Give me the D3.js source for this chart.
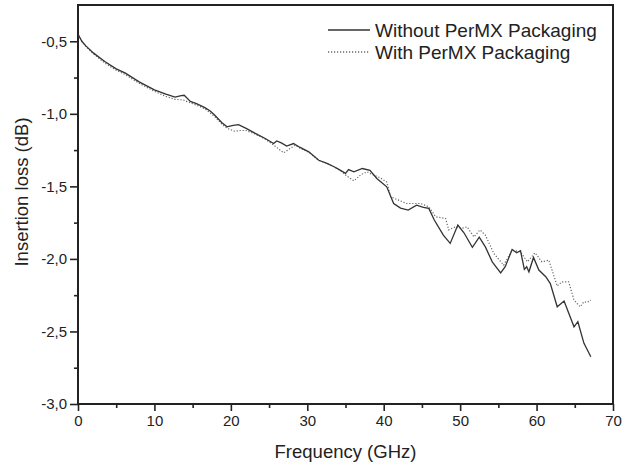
<!DOCTYPE html>
<html>
<head>
<meta charset="utf-8">
<script src="https://cdn.jsdelivr.net/npm/d3@7"></script>
<style>
  body { margin: 0; background: #fff; }
  text { font-family: Arial, "Liberation Sans", sans-serif; fill: #222; }
</style>
</head>
<body>
<div id="chart"></div>
<script>
// frequency (GHz) and insertion loss (dB)
var withoutFreq = [0.1, 0.5, 1, 2, 3.5, 5, 6.2, 8, 10, 11.5, 12.7, 13.5, 13.9, 14.7, 15.5, 16.6, 17.3, 17.9, 18.8, 19.5,
    20.3, 21, 22, 23.2, 24.5, 25.6, 26, 26.6, 27.3, 28.2, 29, 30.2, 31.5, 32.5, 33.5, 34.3, 35, 35.4, 36.1, 37.2,
    38.2, 39.1, 40.4, 41.3, 42.2, 43.2, 44.3, 45.2, 45.9, 46.6, 47.8, 48.7, 49.7, 50.5, 51.6, 52.5, 53.3, 54.2, 55.3, 55.9,
    56.8, 57.4, 57.9, 58.4, 58.7, 59, 59.6, 60.3, 61.2, 61.8, 62.7, 63.6, 64.9, 65.4, 66.2, 67.1];
var withoutLoss = [-0.46, -0.50, -0.53, -0.58, -0.64, -0.69, -0.72, -0.78, -0.835, -0.865, -0.885, -0.875, -0.872, -0.915, -0.93, -0.957, -0.98, -1.01, -1.06, -1.09,
    -1.08, -1.075, -1.10, -1.135, -1.17, -1.205, -1.187, -1.20, -1.222, -1.205, -1.23, -1.262, -1.32, -1.34, -1.365, -1.388, -1.41, -1.384, -1.40, -1.377,
    -1.39, -1.446, -1.503, -1.618, -1.65, -1.664, -1.63, -1.645, -1.652, -1.73, -1.836, -1.893, -1.767, -1.82, -1.92, -1.85, -1.917, -2.02, -2.096, -2.054,
    -1.935, -1.958, -1.944, -2.072, -2.054, -2.089, -1.99, -2.077, -2.123, -2.17, -2.33, -2.29, -2.468, -2.433, -2.582, -2.674];

var withFreq = [0.1, 0.5, 1, 2, 3.5, 5, 6.2, 8, 10, 11.5, 12.7, 13.8, 14.7, 15.5, 16.6, 17.9, 18.8, 19.5, 20.5, 21.2,
    22, 23.2, 24.5, 25.6, 26.9, 27.6, 28.4, 29, 30.2, 31.5, 32.5, 33.5, 34.3, 35.2, 36.1, 37, 37.8, 38.6, 39.5, 40.4,
    40.9, 41.7, 43, 44.8, 45.9, 46.8, 48.1, 48.5, 49.4, 50.2, 50.9, 51.8, 52.6, 53.3, 54.4, 55.7, 56.8, 57.9, 58.8, 59.8,
    60.7, 61.6, 62.7, 63.3, 64.2, 64.9, 65.7, 66.2, 66.6, 67.1];
var withLoss = [-0.46, -0.50, -0.535, -0.585, -0.65, -0.70, -0.73, -0.79, -0.845, -0.88, -0.90, -0.905, -0.925, -0.94, -0.965, -1.02, -1.07, -1.10, -1.12, -1.115,
    -1.115, -1.14, -1.175, -1.215, -1.269, -1.245, -1.216, -1.235, -1.265, -1.32, -1.34, -1.365, -1.39, -1.43, -1.462, -1.42, -1.40, -1.42, -1.44, -1.47,
    -1.57, -1.59, -1.618, -1.618, -1.641, -1.71, -1.721, -1.80, -1.779, -1.79, -1.779, -1.848, -1.80, -1.836, -1.962, -2.043, -1.94, -1.951, -2.02, -1.958,
    -2.02, -2.008, -2.187, -2.158, -2.158, -2.284, -2.33, -2.295, -2.30, -2.284];

var seriesNames = ["Without PerMX Packaging", "With PerMX Packaging"];
var xTicks = [0, 10, 20, 30, 40, 50, 60, 70];
var xMinorTicks = [5, 15, 25, 35, 45, 55, 65];
var yTicks = [-3.0, -2.5, -2.0, -1.5, -1.0, -0.5];
var yMinorTicks = [-2.75, -2.25, -1.75, -1.25, -0.75];

// svg size
const width = 622, height = 467;
const margin = {top: 5, right: 9, bottom: 63, left: 78};
const pw = width - margin.left - margin.right;
const ph = height - margin.top - margin.bottom;

var s = d3.select("#chart").append("svg")
    .attr("width", width)
    .attr("height", height);

var g = s.append("g")
    .attr("transform", `translate(${margin.left}, ${margin.top})`);

// scales
var x = d3.scaleLinear().domain([0, 70]).range([0, pw]);
var y = d3.scaleLinear().domain([-3.0, -0.25]).range([ph, 0]);

// decimal comma, plain hyphen for minus
function commaFmt(v){ return v.toFixed(1).replace(".", ","); }

// axes (major + minor ticks)
g.append("g")
    .attr("transform", "translate(0," + ph + ")")
    .call(d3.axisBottom(x).tickValues(xTicks).tickSize(7).tickPadding(4).tickFormat(d3.format("d")));
g.append("g")
    .attr("transform", "translate(0," + ph + ")")
    .call(d3.axisBottom(x).tickValues(xMinorTicks).tickSize(4).tickFormat(""));
g.append("g")
    .call(d3.axisLeft(y).tickValues(yTicks).tickSize(8).tickPadding(3).tickFormat(commaFmt));
g.append("g")
    .call(d3.axisLeft(y).tickValues(yMinorTicks).tickSize(4).tickFormat(""));

g.selectAll(".domain").remove();
g.selectAll(".tick line").attr("stroke", "#222").attr("stroke-width", 1.6);
g.selectAll(".tick text").style("font-size", "15px").attr("fill", "#222");

// frame
g.append("rect")
    .attr("x", 0).attr("y", 0)
    .attr("width", pw).attr("height", ph)
    .attr("fill", "none")
    .attr("stroke", "#222")
    .attr("stroke-width", 2);

// axis titles
s.append("text")
    .attr("x", margin.left + pw / 2)
    .attr("y", 458)
    .attr("text-anchor", "middle")
    .style("font-size", "18.5px")
    .text("Frequency (GHz)");
s.append("text")
    .attr("transform", "translate(28,192) rotate(-90)")
    .attr("text-anchor", "middle")
    .style("font-size", "18.5px")
    .text("Insertion loss (dB)");

// lines
var line = d3.line()
    .x(function(d){ return x(d[0]); })
    .y(function(d){ return y(d[1]); })
    .curve(d3.curveLinear);

var withData = withFreq.map(function(f, i){ return [f, withLoss[i]]; });
var withoutData = withoutFreq.map(function(f, i){ return [f, withoutLoss[i]]; });

g.append("path")
    .attr("d", line(withData))
    .attr("fill", "none")
    .attr("stroke", "#666")
    .attr("stroke-width", 1.2)
    .attr("stroke-dasharray", "1.2,1.8");
g.append("path")
    .attr("d", line(withoutData))
    .attr("fill", "none")
    .attr("stroke", "#333")
    .attr("stroke-width", 1.3);

// legend
var legend = s.append("g");
var legendStyles = [{dash: null, color: "#333"}, {dash: "1.2,1.8", color: "#666"}];
seriesNames.forEach(function(name, i){
    var ly = 30 + i * 22;
    legend.append("line")
        .attr("x1", 328).attr("x2", 370)
        .attr("y1", ly).attr("y2", ly)
        .attr("stroke", legendStyles[i].color)
        .attr("stroke-width", 1.3)
        .attr("stroke-dasharray", legendStyles[i].dash);
    legend.append("text")
        .attr("x", 375)
        .attr("y", ly + 7)
        .style("font-size", "19px")
        .text(name);
});
</script>
</body>
</html>
